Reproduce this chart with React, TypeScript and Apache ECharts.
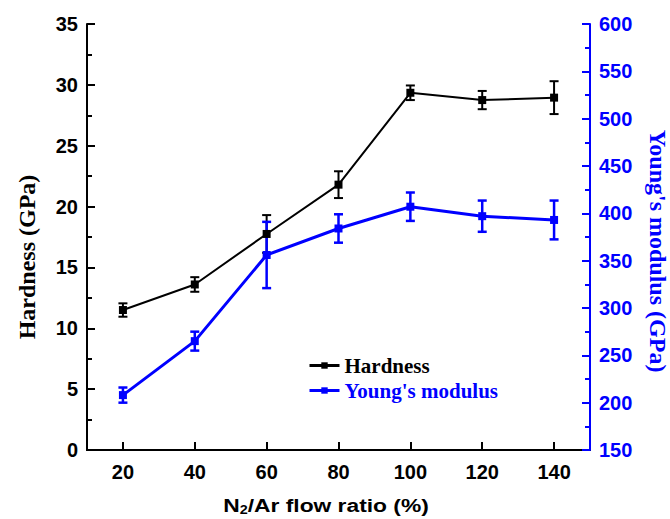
import React, { useEffect, useRef } from 'react';
import * as echarts from 'echarts';

const flowRatio = [20, 40, 60, 80, 100, 120, 140];
const hardness = [11.5, 13.6, 17.75, 21.8, 29.35, 28.75, 28.95];
const hardnessErr = [0.55, 0.6, 1.55, 1.1, 0.6, 0.75, 1.35];
const modulus = [208, 265, 356, 384, 407, 397, 393];
const modulusErr = [8, 10, 35, 15, 15, 16.5, 20.5];
const xTickLabels = [20, 40, 60, 80, 100, 120, 140];

const BLUE = '#0000ff';
const SANS = '"Liberation Sans", Arial, sans-serif';
const SERIF = '"Liberation Serif", "Times New Roman", serif';

const errRender = (color: string, lw: number) => (params: any, api: any) => {
  const x = api.value(0);
  const lo = api.value(1);
  const hi = api.value(2);
  const pHi = api.coord([x, hi]);
  const pLo = api.coord([x, lo]);
  const w = 4.5;
  const style = { stroke: color, lineWidth: lw };
  return {
    type: 'group',
    children: [
      { type: 'line', shape: { x1: pHi[0], y1: pHi[1], x2: pLo[0], y2: pLo[1] }, style },
      { type: 'line', shape: { x1: pHi[0] - w, y1: pHi[1], x2: pHi[0] + w, y2: pHi[1] }, style },
      { type: 'line', shape: { x1: pLo[0] - w, y1: pLo[1], x2: pLo[0] + w, y2: pLo[1] }, style },
    ],
  };
};

export default function App() {
  const ref = useRef<HTMLDivElement>(null);
  useEffect(() => {
    const chart = echarts.init(ref.current!, null, { renderer: 'svg' });
    const hPts = flowRatio.map((x, i) => [x, hardness[i]]);
    const mPts = flowRatio.map((x, i) => [x, modulus[i]]);
    const hErr = flowRatio.map((x, i) => [x, hardness[i] - hardnessErr[i], hardness[i] + hardnessErr[i]]);
    const mErr = flowRatio.map((x, i) => [x, modulus[i] - modulusErr[i], modulus[i] + modulusErr[i]]);

    const tickLabelStyle = { fontFamily: SANS, fontWeight: 'bold' as const, fontSize: 20 };

    chart.setOption({
      animation: false,
      backgroundColor: '#fff',
      grid: { left: 87, right: 80, top: 24, bottom: 69, containLabel: false, outerBoundsMode: 'none' },
      xAxis: [
        {
          type: 'value',
          min: 10,
          max: 150,
          interval: 10,
          position: 'bottom',
          splitLine: { show: false },
          axisLine: { show: true, lineStyle: { color: '#000', width: 2 } },
          axisTick: { show: true, inside: true, length: 8, lineStyle: { color: '#000', width: 2 }, customValues: xTickLabels },
          axisLabel: { ...tickLabelStyle, color: '#000', margin: 12, customValues: xTickLabels },
        },
        {
          type: 'value',
          min: 10,
          max: 150,
          position: 'top',
          splitLine: { show: false },
          axisLine: { show: true, lineStyle: { color: '#000', width: 2 } },
          axisTick: { show: false },
          axisLabel: { show: false },
        },
      ],
      yAxis: [
        {
          type: 'value',
          min: 0,
          max: 35,
          interval: 5,
          position: 'left',
          splitLine: { show: false },
          axisLine: { show: true, lineStyle: { color: '#000', width: 2 } },
          axisTick: { show: true, inside: true, length: 8, lineStyle: { color: '#000', width: 2 } },
          axisLabel: { ...tickLabelStyle, color: '#000', margin: 9 },
          z: 3,
        },
        {
          type: 'value',
          min: 150,
          max: 600,
          interval: 50,
          position: 'right',
          splitLine: { show: false },
          axisLine: { show: true, lineStyle: { color: BLUE, width: 2 } },
          axisTick: { show: true, inside: true, length: 8, lineStyle: { color: BLUE, width: 2 } },
          axisLabel: { ...tickLabelStyle, color: BLUE, margin: 9 },
          z: 3,
        },
        {
          type: 'value',
          min: 0,
          max: 35,
          interval: 2.5,
          position: 'left',
          splitLine: { show: false },
          axisLine: { show: false },
          axisTick: { show: true, inside: true, length: 5, lineStyle: { color: '#000', width: 2 } },
          axisLabel: { show: false },
          z: 2,
        },
        {
          type: 'value',
          min: 150,
          max: 600,
          interval: 25,
          position: 'right',
          splitLine: { show: false },
          axisLine: { show: false },
          axisTick: { show: true, inside: true, length: 5, lineStyle: { color: BLUE, width: 2 } },
          axisLabel: { show: false },
          z: 2,
        },
      ],
      legend: {
        orient: 'vertical',
        left: 303,
        top: 350,
        itemWidth: 30,
        itemHeight: 8,
        itemGap: 4,
        textStyle: { fontFamily: SERIF, fontWeight: 'bold', fontSize: 21 },
        data: [
          { name: 'Hardness', textStyle: { color: '#000' }, lineStyle: { width: 3 } },
          { name: "Young's modulus", textStyle: { color: BLUE }, lineStyle: { width: 3 } },
        ],
      },
      series: [
        {
          name: 'HardnessErr',
          type: 'custom',
          xAxisIndex: 0,
          yAxisIndex: 0,
          renderItem: errRender('#000', 2),
          data: hErr,
          z: 3,
        },
        {
          name: 'ModulusErr',
          type: 'custom',
          xAxisIndex: 0,
          yAxisIndex: 1,
          renderItem: errRender(BLUE, 2.5),
          data: mErr,
          z: 4,
        },
        {
          name: 'Hardness',
          type: 'line',
          xAxisIndex: 0,
          yAxisIndex: 0,
          data: hPts,
          symbol: 'rect',
          symbolSize: 8,
          itemStyle: { color: '#000' },
          lineStyle: { color: '#000', width: 2 },
          z: 5,
        },
        {
          name: "Young's modulus",
          type: 'line',
          xAxisIndex: 0,
          yAxisIndex: 1,
          data: mPts,
          symbol: 'rect',
          symbolSize: 8,
          itemStyle: { color: BLUE },
          lineStyle: { color: BLUE, width: 3 },
          z: 6,
        },
      ],
      graphic: [
        {
          type: 'text',
          x: 27,
          y: 257,
          rotation: Math.PI / 2,
          style: {
            text: 'Hardness (GPa)',
            fontFamily: SERIF,
            fontWeight: 'bold',
            fontSize: 24,
            fill: '#000',
            align: 'center',
            verticalAlign: 'middle',
            textAlign: 'center',
            textVerticalAlign: 'middle',
          },
        },
        {
          type: 'text',
          x: 658,
          y: 251,
          rotation: -Math.PI / 2,
          style: {
            text: "Young's modulus (GPa)",
            fontFamily: SERIF,
            fontWeight: 'bold',
            fontSize: 24,
            fill: BLUE,
            align: 'center',
            verticalAlign: 'middle',
            textAlign: 'center',
            textVerticalAlign: 'middle',
          },
        },
        {
          type: 'text',
          x: 326,
          y: 505,
          scaleX: 1.2,
          style: {
            text: '{a|N}{s|2}{a|/Ar flow ratio (%)}',
            fill: '#000',
            align: 'center',
            verticalAlign: 'middle',
            textAlign: 'center',
            textVerticalAlign: 'middle',
            rich: {
              a: { fontFamily: SANS, fontWeight: 'bold', fontSize: 19, fill: '#000', color: '#000', lineHeight: 22 },
              s: { fontFamily: SANS, fontWeight: 'bold', fontSize: 12, fill: '#000', color: '#000', lineHeight: 22, verticalAlign: 'bottom', padding: [12, 0, 0, 0] },
            },
          },
        },
      ],
    });
    return () => chart.dispose();
  }, []);
  return <div ref={ref} style={{ position: 'absolute', left: 0, top: 0, width: 670, height: 519 }} />;
}
